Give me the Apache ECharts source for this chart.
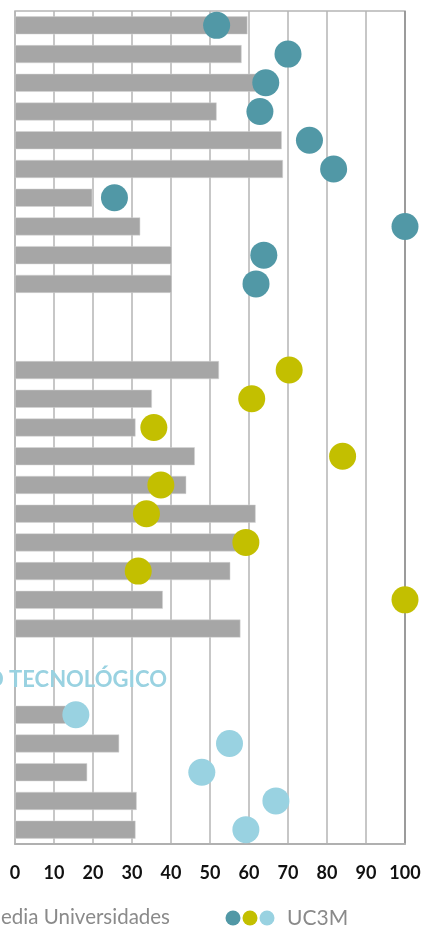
<!DOCTYPE html>
<html>
<head>
<meta charset="utf-8">
<script src="https://cdn.jsdelivr.net/npm/echarts@6/dist/echarts.min.js"></script>
<style>
html,body{margin:0;padding:0;background:#fff;}
#chart{width:430px;height:927px;}
</style>
</head>
<body>
<div id="chart"></div>
<script>
// ---- data ----
const group1Media = [59.6, 58.1, 62.0, 51.7, 68.4, 68.7, 19.8, 32.1, 40.2, 40.2];
const group1UC3M  = [51.7, 70.0, 64.3, 62.8, 75.5, 81.7, 25.5, 100, 63.8, 61.8];
const group2Media = [52.3, 35.1, 30.9, 46.1, 43.9, 61.7, 58.0, 55.2, 37.9, 57.8];
const group2UC3M  = [70.3, 60.7, 35.6, 84.0, 37.4, 33.7, 59.2, 31.6, 100, null];
const group3Media = [13.0, 26.7, 18.5, 31.2, 30.9];
const group3UC3M  = [15.6, 55.0, 47.9, 66.9, 59.2];
const xTicks = [0, 10, 20, 30, 40, 50, 60, 70, 80, 90, 100];
const group3Title = 'DESARROLLO TECNOLÓGICO';
const legendMedia = 'Media Universidades';
const legendUC3M = 'UC3M';

// ---- build rows ----
const GAP = 2;
const categories = [];
const barData = [];
const dots1 = [], dots2 = [], dots3 = [];
function addGroup(media, uc3m, target) {
  media.forEach((v, i) => {
    categories.push('r' + categories.length);
    barData.push(v);
    const u = uc3m[i];
    [dots1, dots2, dots3].forEach(arr => arr.push(arr === target && u != null ? u : '-'));
  });
}
function addGap() {
  for (let i = 0; i < GAP; i++) {
    categories.push('r' + categories.length);
    barData.push('-');
    dots1.push('-'); dots2.push('-'); dots3.push('-');
  }
}
addGroup(group1Media, group1UC3M, dots1);
addGap();
addGroup(group2Media, group2UC3M, dots2);
addGap();
addGroup(group3Media, group3UC3M, dots3);

const C1 = '#5198a6', C2 = '#c3bf00', C3 = '#99d2e1';
const gridColors = xTicks.map(t => t === 100 ? '#8c8c8c' : '#b5b5b5');

const chart = echarts.init(document.getElementById('chart'));
chart.setOption({
  animation: false,
  grid: { left: 15, right: 25, top: 11, bottom: 83, show: true, borderColor: '#b5b5b5', borderWidth: 1.5, backgroundColor: '#fff' },
  xAxis: {
    type: 'value', min: 0, max: 100, interval: 10,
    axisLine: { show: true, lineStyle: { color: '#b0b0b0', width: 2 } },
    axisTick: { show: false },
    splitLine: { show: true, lineStyle: { color: gridColors, width: 1.5 } },
    axisLabel: {
      margin: 20, color: '#111', fontFamily: 'Lato', fontWeight: 'bold', fontSize: 18,
      formatter: v => String(v)
    }
  },
  yAxis: {
    type: 'category', data: categories, inverse: true,
    axisLine: { show: false }, axisTick: { show: false }, axisLabel: { show: false },
    splitLine: { show: false }
  },
  series: [
    { type: 'bar', data: barData, barWidth: 18, itemStyle: { color: '#a6a6a6', borderColor: '#d4d4d4', borderWidth: 0.5 }, z: 2 },
    { type: 'scatter', data: dots1, symbolSize: 27, itemStyle: { color: C1, opacity: 1 }, z: 3 },
    { type: 'scatter', data: dots2, symbolSize: 27, itemStyle: { color: C2, opacity: 1 }, z: 3 },
    { type: 'scatter', data: dots3, symbolSize: 27, itemStyle: { color: C3, opacity: 1 }, z: 3 }
  ],
  graphic: [
    { type: 'text', x: 167, y: 680, z: 10,
      style: { text: group3Title, fill: C3, font: 'bold 22px Lato', textAlign: 'right', textVerticalAlign: 'middle' } },
    { type: 'text', x: 170, y: 917, z: 10,
      style: { text: legendMedia, fill: '#8a8a8a', font: '20.5px Lato', textAlign: 'right', textVerticalAlign: 'middle' } },
    { type: 'circle', shape: { cx: 233, cy: 918, r: 7.5 }, style: { fill: C1 } },
    { type: 'circle', shape: { cx: 250, cy: 918, r: 7.5 }, style: { fill: C2 } },
    { type: 'circle', shape: { cx: 267, cy: 918, r: 7.5 }, style: { fill: C3 } },
    { type: 'text', x: 287, y: 918, z: 10,
      style: { text: legendUC3M, fill: '#8a8a8a', font: '21px Lato', textAlign: 'left', textVerticalAlign: 'middle' } }
  ]
});
</script>
</body>
</html>
